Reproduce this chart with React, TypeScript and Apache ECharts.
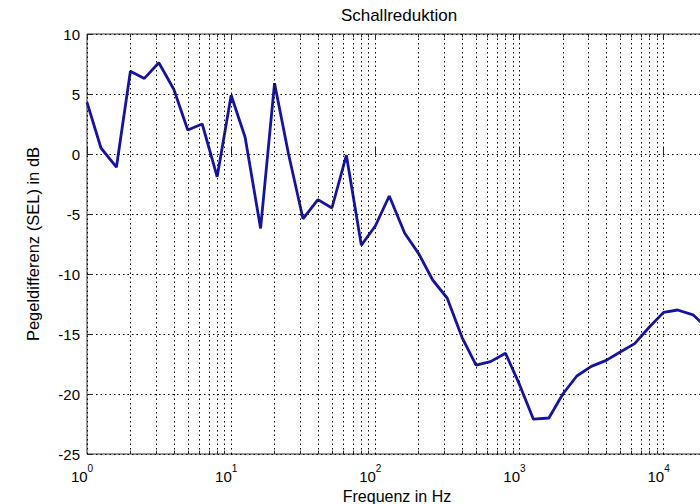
import React, { useEffect, useRef } from 'react';
import * as echarts from 'echarts';

const freqs = [1, 1.25, 1.6, 2, 2.5, 3.15, 4, 5, 6.3, 8, 10, 12.5, 16, 20, 25, 31.5, 40, 50, 63, 80, 100, 125, 160, 200, 250, 315, 400, 500, 630, 800, 1000, 1250, 1600, 2000, 2500, 3150, 4000, 5000, 6300, 8000, 10000, 12500, 16000, 20000];
const levels = [4.3, 0.5, -1.1, 6.9, 6.3, 7.6, 5.4, 2.0, 2.5, -1.9, 4.9, 1.4, -6.2, 5.9, 0.0, -5.4, -3.8, -4.5, -0.1, -7.6, -6.0, -3.5, -6.6, -8.3, -10.5, -12.0, -15.3, -17.6, -17.3, -16.6, -19.2, -22.1, -22.0, -20.0, -18.5, -17.7, -17.2, -16.5, -15.8, -14.4, -13.2, -13.0, -13.4, -14.5];
const decades = [1, 10, 100, 1000, 10000];
const minorMultipliers = [2, 3, 4, 5, 6, 7, 8, 9];
const xMin = 1;
const xMax = 20000;
const yMin = -25;
const yMax = 10;
const yStep = 5;

const FONT = "'Liberation Sans', Arial, Helvetica, sans-serif";

export default function App() {
  const ref = useRef<HTMLDivElement>(null);
  useEffect(() => {
    const chart = echarts.init(ref.current!, null, { renderer: 'svg' });
    const minorValues: number[] = [];
    decades.forEach((d) =>
      minorMultipliers.forEach((m) => {
        const v = d * m;
        if (v < xMax) minorValues.push(v);
      })
    );
    const dotted = { color: '#000', width: 1, type: [1.5, 3] as any };
    const tickStyle = { color: '#222', width: 1, type: 'solid' as const };
    const tickLen = 0.28;
    const markData: any[] = [];
    minorValues.forEach((v) => {
      markData.push({ xAxis: v, lineStyle: dotted });
      markData.push([
        { coord: [v, yMin], lineStyle: tickStyle },
        { coord: [v, yMin + tickLen] },
      ]);
      markData.push([
        { coord: [v, yMax], lineStyle: tickStyle },
        { coord: [v, yMax - tickLen] },
      ]);
    });

    const fmt = (v: number) => {
      const e = Math.round(Math.log10(v));
      if (Math.abs(v - Math.pow(10, e)) > 1e-6 * v) return '';
      return `{b|10}{s|${e}}{t| }`;
    };

    const makeX = (position: 'bottom' | 'top', main: boolean) => ({
      type: 'log',
      logBase: 10,
      min: xMin,
      max: xMax,
      position,
      axisLine: { show: false },
      axisTick: { show: true, inside: true, length: 6, lineStyle: { color: '#222' } },
      axisLabel: main
        ? {
            show: true,
            formatter: fmt,
            margin: 9,
            rich: {
              b: { fontSize: 15, fontFamily: FONT, color: '#000', verticalAlign: 'bottom', lineHeight: 21 },
              s: { fontSize: 10, fontFamily: FONT, color: '#000', verticalAlign: 'top', lineHeight: 21 },
              t: { fontSize: 10, width: 10, lineHeight: 21 },
            },
          }
        : { show: false },
      splitLine: main ? { show: true, lineStyle: dotted } : { show: false },
      name: main ? 'Frequenz in Hz' : '',
      nameLocation: 'middle',
      nameGap: 30,
      nameTextStyle: { fontSize: 16, fontFamily: FONT, color: '#000' },
    });

    chart.setOption({
      animation: false,
      backgroundColor: '#fff',
      title: {
        text: 'Schallreduktion',
        left: 394,
        top: 2,
        textAlign: 'center',
        textStyle: { fontSize: 17, fontWeight: 'normal', fontFamily: FONT, color: '#000' },
      },
      grid: {
        left: 87,
        top: 34,
        right: -7,
        bottom: 50,
        show: true,
        borderColor: '#333',
        borderWidth: 1,
        backgroundColor: '#fff',
        containLabel: false,
        outerBoundsMode: 'none',
      },
      xAxis: [makeX('bottom', true), makeX('top', false)],
      yAxis: {
        type: 'value',
        min: yMin,
        max: yMax,
        interval: yStep,
        axisLine: { show: false },
        axisTick: { show: true, inside: true, length: 6, lineStyle: { color: '#222' } },
        axisLabel: { fontSize: 15, fontFamily: FONT, color: '#000', margin: 7 },
        splitLine: { show: true, lineStyle: dotted },
        name: 'Pegeldifferenz (SEL) in dB',
        nameLocation: 'middle',
        nameGap: 46,
        nameTextStyle: { fontSize: 16.5, fontFamily: FONT, color: '#000' },
      },
      series: [
        {
          type: 'line',
          xAxisIndex: 0,
          data: freqs.map((f, i) => [f, levels[i]]),
          symbol: 'none',
          lineStyle: { color: '#1414a0', width: 2.8 },
          clip: true,
          silent: true,
          markLine: {
            silent: true,
            symbol: ['none', 'none'],
            label: { show: false },
            animation: false,
            data: markData,
          },
        },
      ],
    });
    return () => chart.dispose();
  }, []);
  return (
    <div
      ref={ref}
      style={{ position: 'fixed', left: 0, top: 0, width: 700, height: 504, background: '#fff' }}
    />
  );
}
